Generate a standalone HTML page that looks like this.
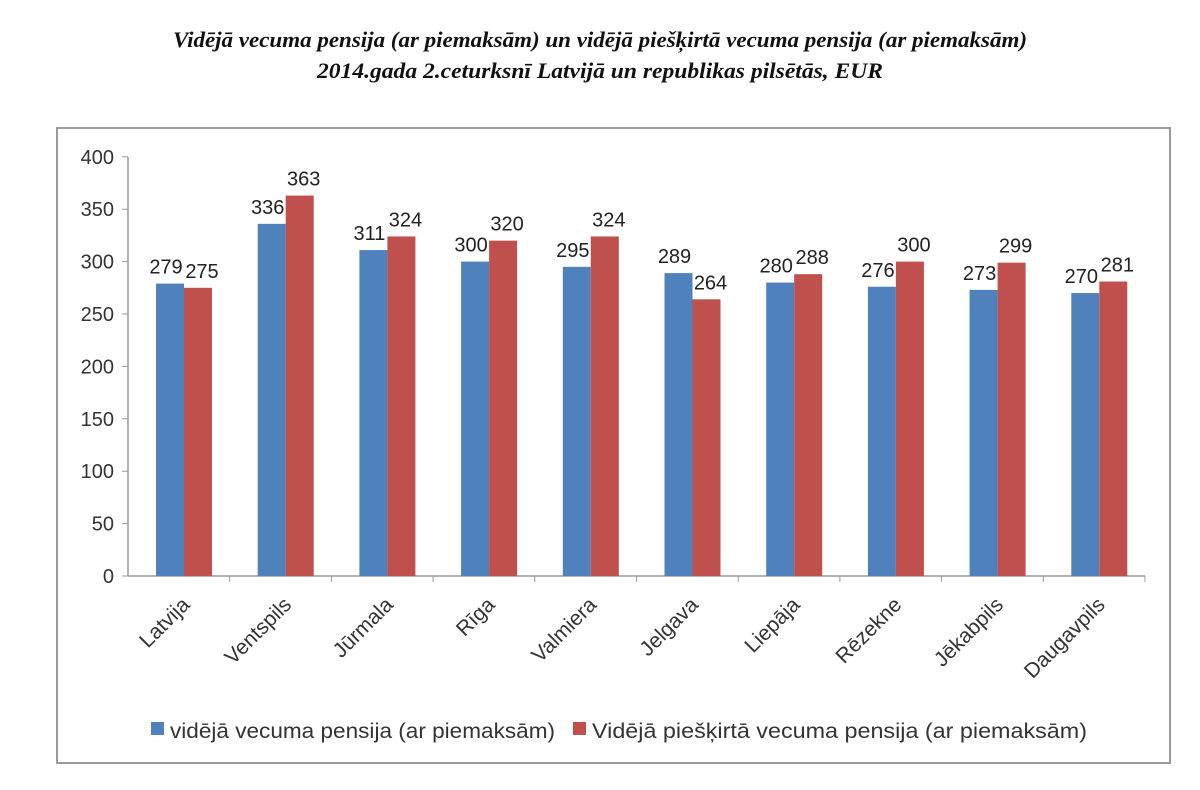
<!DOCTYPE html>
<html><head><meta charset="utf-8"><style>
body{margin:0;background:#fff;width:1200px;height:785px;overflow:hidden;font-family:"Liberation Sans",sans-serif}
</style></head><body>
<svg width="1200" height="785" xmlns="http://www.w3.org/2000/svg">
<text x="600" y="47" text-anchor="middle" font-family="Liberation Serif" font-style="italic" font-weight="bold" font-size="22" fill="#111" textLength="854" lengthAdjust="spacingAndGlyphs">Vidējā vecuma pensija (ar piemaksām) un vidējā piešķirtā vecuma pensija (ar piemaksām)</text>
<text x="600" y="78" text-anchor="middle" font-family="Liberation Serif" font-style="italic" font-weight="bold" font-size="22" fill="#111" textLength="566" lengthAdjust="spacingAndGlyphs">2014.gada 2.ceturksnī Latvijā un republikas pilsētās, EUR</text>
<rect x="57" y="128" width="1113" height="635" fill="#fff" stroke="#9a9a9a" stroke-width="2"/>
<g id="c"></g>
</svg>
<script>
const svg=document.querySelector('#c');let h='';
const y0=576,k=52.4/50,x0=128,cw=101.7;
h+=`<line x1="${x0}" y1="157" x2="${x0}" y2="${y0}" stroke="#999" stroke-width="1.5"/>`;
h+=`<line x1="${x0}" y1="${y0}" x2="${x0+10*cw}" y2="${y0}" stroke="#999" stroke-width="1.5"/>`;
for(let v=0;v<=400;v+=50){const y=y0-v*k;h+=`<line x1="${x0-6}" y1="${y}" x2="${x0}" y2="${y}" stroke="#999"/><text x="${x0-14}" y="${y+7}" text-anchor="end" font-size="20" fill="#333">${v}</text>`;}
const names=["Latvija","Ventspils","Jūrmala","Rīga","Valmiera","Jelgava","Liepāja","Rēzekne","Jēkabpils","Daugavpils"];
const a=[279,336,311,300,295,289,280,276,273,270],b=[275,363,324,320,324,264,288,300,299,281];
for(let i=0;i<10;i++){const s=x0+i*cw;h+=`<line x1="${s+cw}" y1="${y0}" x2="${s+cw}" y2="${y0+6}" stroke="#999"/>`;
const bx=s+28,rx=s+56;
h+=`<rect x="${bx}" y="${y0-a[i]*k}" width="28" height="${a[i]*k}" fill="#4f81bd"/>`;
h+=`<rect x="${rx}" y="${y0-b[i]*k}" width="28" height="${b[i]*k}" fill="#c0504d"/>`;
h+=`<text x="${bx+10}" y="${y0-a[i]*k-10}" text-anchor="middle" font-size="20" fill="#222">${a[i]}</text>`;
h+=`<text x="${rx+18}" y="${y0-b[i]*k-10}" text-anchor="middle" font-size="20" fill="#222">${b[i]}</text>`;
const cx=s+cw/2+12;h+=`<text transform="translate(${cx},${y0+30}) rotate(-45)" text-anchor="end" font-size="21" fill="#333">${names[i]}</text>`;}
h+=`<rect x="151" y="722" width="13" height="13" fill="#4f81bd"/><text x="170" y="738" font-size="21" fill="#333" textLength="385" lengthAdjust="spacingAndGlyphs">vidējā vecuma pensija (ar piemaksām)</text>`;
h+=`<rect x="573" y="722" width="13" height="13" fill="#c0504d"/><text x="592" y="738" font-size="21" fill="#333" textLength="495" lengthAdjust="spacingAndGlyphs">Vidējā piešķirtā vecuma pensija (ar piemaksām)</text>`;
svg.innerHTML=h;
</script>
</body></html>
